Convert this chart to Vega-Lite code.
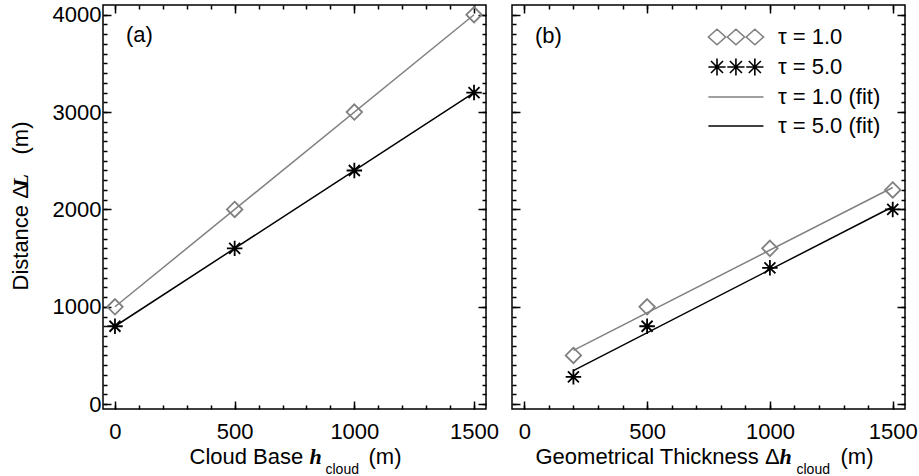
{
  "$schema": "https://vega.github.io/schema/vega-lite/v6.json",
  "background": "white",
  "padding": {"left": 8, "top": 2, "right": 0, "bottom": 0},
  "spacing": 10,
  "datasets": {
    "points_a": [
      {"x": 0, "y": 1000, "series": "τ = 1.0"},
      {"x": 500, "y": 2000, "series": "τ = 1.0"},
      {"x": 1000, "y": 3000, "series": "τ = 1.0"},
      {"x": 1500, "y": 4000, "series": "τ = 1.0"},
      {"x": 0, "y": 800, "series": "τ = 5.0"},
      {"x": 500, "y": 1600, "series": "τ = 5.0"},
      {"x": 1000, "y": 2400, "series": "τ = 5.0"},
      {"x": 1500, "y": 3200, "series": "τ = 5.0"}
    ],
    "fits_a": [
      {"x": 0, "y": 1000, "series": "τ = 1.0 (fit)"},
      {"x": 1500, "y": 4000, "series": "τ = 1.0 (fit)"},
      {"x": 0, "y": 800, "series": "τ = 5.0 (fit)"},
      {"x": 1500, "y": 3200, "series": "τ = 5.0 (fit)"}
    ],
    "points_b": [
      {"x": 200, "y": 500, "series": "τ = 1.0"},
      {"x": 500, "y": 1000, "series": "τ = 1.0"},
      {"x": 1000, "y": 1600, "series": "τ = 1.0"},
      {"x": 1500, "y": 2200, "series": "τ = 1.0"},
      {"x": 200, "y": 280, "series": "τ = 5.0"},
      {"x": 500, "y": 800, "series": "τ = 5.0"},
      {"x": 1000, "y": 1400, "series": "τ = 5.0"},
      {"x": 1500, "y": 2000, "series": "τ = 5.0"}
    ],
    "fits_b": [
      {"x": 200, "y": 553, "series": "τ = 1.0 (fit)"},
      {"x": 1500, "y": 2225, "series": "τ = 1.0 (fit)"},
      {"x": 200, "y": 345, "series": "τ = 5.0 (fit)"},
      {"x": 1500, "y": 2028, "series": "τ = 5.0 (fit)"}
    ],
    "legend_b": [
      {"series": "τ = 1.0"},
      {"series": "τ = 5.0"},
      {"series": "τ = 1.0 (fit)"},
      {"series": "τ = 5.0 (fit)"}
    ]
  },
  "hconcat": [
    {
      "width": 383,
      "height": 404,
      "title": {"text": "(a)", "anchor": "start", "frame": "group", "offset": -39, "dx": 23, "dy": 22, "baseline": "alphabetic", "fontSize": 22, "fontWeight": "normal", "font": "Liberation Sans", "color": "#000"},
      "resolve": {"axis": {"x": "independent", "y": "independent"}},
      "layer": [
        {
          "data": {"name": "fits_a"},
          "mark": {"type": "line", "strokeWidth": 1.5},
          "encoding": {
            "x": {"field": "x", "type": "quantitative", "scale": {"domain": [-50, 1550], "nice": false, "zero": false},
              "axis": {"orient": "bottom", "values": [0, 500, 1000, 1500], "format": "d", "tickSize": -8, "labelPadding": 20, "labelFlush": false, "labelOverlap": false, "title": "Cloud Base", "titleX": 86, "titleY": 54, "titleAlign": "left", "titleBaseline": "alphabetic", "titleAngle": 0}},
            "y": {"field": "y", "type": "quantitative", "scale": {"domain": [-50, 4100], "nice": false, "zero": false},
              "axis": {"orient": "left", "values": [0, 1000, 2000, 3000, 4000], "format": "d", "tickSize": -8, "labelPadding": 10, "labelFlush": false, "labelOverlap": false, "title": "Distance Δ", "titleX": -76, "titleY": 285, "titleAlign": "left", "titleBaseline": "alphabetic", "titleAngle": 270}},
            "color": {"field": "series", "type": "nominal", "scale": {"domain": ["τ = 1.0", "τ = 5.0", "τ = 1.0 (fit)", "τ = 5.0 (fit)"], "range": ["#808080", "#000000", "#808080", "#000000"]}, "legend": null}
          }
        },
        {
          "data": {"name": "points_a"},
          "mark": {"type": "point", "filled": false, "opacity": 1, "strokeWidth": 1.8, "size": 240},
          "encoding": {
            "x": {"field": "x", "type": "quantitative",
              "axis": {"orient": "bottom", "values": [0,100,200,300,400,500,600,700,800,900,1000,1100,1200,1300,1400,1500], "tickSize": -4, "labels": false, "title": "h", "titleFont": "Liberation Serif", "titleFontStyle": "italic", "titleFontWeight": "bold", "titleX": 206, "titleY": 54, "titleAlign": "left", "titleBaseline": "alphabetic", "titleAngle": 0}},
            "y": {"field": "y", "type": "quantitative",
              "axis": {"orient": "left", "values": [0,100,200,300,400,500,600,700,800,900,1000,1100,1200,1300,1400,1500,1600,1700,1800,1900,2000,2100,2200,2300,2400,2500,2600,2700,2800,2900,3000,3100,3200,3300,3400,3500,3600,3700,3800,3900,4000], "tickSize": -4, "labels": false, "title": "L", "titleFont": "Liberation Serif", "titleFontStyle": "italic", "titleFontWeight": "bold", "titleX": -76, "titleY": 182, "titleAlign": "left", "titleBaseline": "alphabetic", "titleAngle": 270}},
            "color": {"field": "series", "type": "nominal", "legend": null},
            "shape": {"field": "series", "type": "nominal", "scale": {"domain": ["τ = 1.0", "τ = 5.0", "τ = 1.0 (fit)", "τ = 5.0 (fit)"], "range": ["M0,-1L1,0L0,1L-1,0Z", "M-1,0L1,0M0,-1L0,1M-0.71,-0.71L0.71,0.71M-0.71,0.71L0.71,-0.71", "stroke", "stroke"]}, "legend": null}
          }
        },
        {
          "data": {"name": "points_a"},
          "mark": {"type": "point", "opacity": 0},
          "encoding": {
            "x": {"field": "x", "type": "quantitative",
              "axis": {"orient": "top", "values": [0, 500, 1000, 1500], "tickSize": -8, "labels": false, "title": "cloud", "titleFontSize": 14, "titleX": 222, "titleY": 468, "titleAlign": "left", "titleBaseline": "alphabetic", "titleAngle": 0}},
            "y": {"field": "y", "type": "quantitative",
              "axis": {"orient": "right", "values": [0, 1000, 2000, 3000, 4000], "tickSize": -8, "labels": false, "title": "(m)", "titleX": -459, "titleY": 149, "titleAlign": "left", "titleBaseline": "alphabetic", "titleAngle": 270}}
          }
        },
        {
          "data": {"name": "points_a"},
          "mark": {"type": "point", "opacity": 0},
          "encoding": {
            "x": {"field": "x", "type": "quantitative",
              "axis": {"orient": "top", "values": [0,100,200,300,400,500,600,700,800,900,1000,1100,1200,1300,1400,1500], "tickSize": -4, "labels": false, "title": "(m)", "titleX": 265, "titleY": 458, "titleAlign": "left", "titleBaseline": "alphabetic", "titleAngle": 0}},
            "y": {"field": "y", "type": "quantitative",
              "axis": {"orient": "right", "values": [0,100,200,300,400,500,600,700,800,900,1000,1100,1200,1300,1400,1500,1600,1700,1800,1900,2000,2100,2200,2300,2400,2500,2600,2700,2800,2900,3000,3100,3200,3300,3400,3500,3600,3700,3800,3900,4000], "tickSize": -4, "labels": false, "title": null}}
          }
        }
      ]
    },
    {
      "width": 393,
      "height": 404,
      "title": {"text": "(b)", "anchor": "start", "frame": "group", "offset": -39, "dx": 23, "dy": 22, "baseline": "alphabetic", "fontSize": 22, "fontWeight": "normal", "font": "Liberation Sans", "color": "#000"},
      "resolve": {"axis": {"x": "independent", "y": "independent"}, "scale": {"color": "independent", "shape": "independent"}},
      "layer": [
        {
          "data": {"name": "fits_b"},
          "mark": {"type": "line", "strokeWidth": 1.5},
          "encoding": {
            "x": {"field": "x", "type": "quantitative", "scale": {"domain": [-50, 1550], "nice": false, "zero": false},
              "axis": {"orient": "bottom", "values": [0, 500, 1000, 1500], "format": "d", "tickSize": -8, "labelPadding": 20, "labelFlush": false, "labelOverlap": false, "title": "Geometrical Thickness Δ", "titleX": 23, "titleY": 54, "titleAlign": "left", "titleBaseline": "alphabetic", "titleAngle": 0}},
            "y": {"field": "y", "type": "quantitative", "scale": {"domain": [-50, 4100], "nice": false, "zero": false},
              "axis": {"orient": "left", "values": [0, 1000, 2000, 3000, 4000], "tickSize": -8, "labels": false, "title": null}},
            "color": {"field": "series", "type": "nominal", "scale": {"domain": ["τ = 1.0 (fit)", "τ = 5.0 (fit)"], "range": ["#808080", "#000000"]}, "legend": null}
          }
        },
        {
          "data": {"name": "points_b"},
          "mark": {"type": "point", "filled": false, "opacity": 1, "strokeWidth": 1.8, "size": 240},
          "encoding": {
            "x": {"field": "x", "type": "quantitative",
              "axis": {"orient": "bottom", "values": [0,100,200,300,400,500,600,700,800,900,1000,1100,1200,1300,1400,1500], "tickSize": -4, "labels": false, "title": "h", "titleFont": "Liberation Serif", "titleFontStyle": "italic", "titleFontWeight": "bold", "titleX": 267, "titleY": 54, "titleAlign": "left", "titleBaseline": "alphabetic", "titleAngle": 0}},
            "y": {"field": "y", "type": "quantitative",
              "axis": {"orient": "left", "values": [0,100,200,300,400,500,600,700,800,900,1000,1100,1200,1300,1400,1500,1600,1700,1800,1900,2000,2100,2200,2300,2400,2500,2600,2700,2800,2900,3000,3100,3200,3300,3400,3500,3600,3700,3800,3900,4000], "tickSize": -4, "labels": false, "title": null}},
            "color": {"field": "series", "type": "nominal", "scale": {"domain": ["τ = 1.0", "τ = 5.0"], "range": ["#808080", "#000000"]}, "legend": null},
            "shape": {"field": "series", "type": "nominal", "scale": {"domain": ["τ = 1.0", "τ = 5.0"], "range": ["M0,-1L1,0L0,1L-1,0Z", "M-1,0L1,0M0,-1L0,1M-0.71,-0.71L0.71,0.71M-0.71,0.71L0.71,-0.71"]}, "legend": null}
          }
        },
        {
          "data": {"name": "points_b"},
          "mark": {"type": "point", "opacity": 0},
          "encoding": {
            "x": {"field": "x", "type": "quantitative",
              "axis": {"orient": "top", "values": [0, 500, 1000, 1500], "tickSize": -8, "labels": false, "title": "cloud", "titleFontSize": 14, "titleX": 284, "titleY": 468, "titleAlign": "left", "titleBaseline": "alphabetic", "titleAngle": 0}},
            "y": {"field": "y", "type": "quantitative",
              "axis": {"orient": "right", "values": [0, 1000, 2000, 3000, 4000], "tickSize": -8, "labels": false, "title": null}}
          }
        },
        {
          "data": {"name": "points_b"},
          "mark": {"type": "point", "opacity": 0},
          "encoding": {
            "x": {"field": "x", "type": "quantitative",
              "axis": {"orient": "top", "values": [0,100,200,300,400,500,600,700,800,900,1000,1100,1200,1300,1400,1500], "tickSize": -4, "labels": false, "title": "(m)", "titleX": 328, "titleY": 458, "titleAlign": "left", "titleBaseline": "alphabetic", "titleAngle": 0}},
            "y": {"field": "y", "type": "quantitative",
              "axis": {"orient": "right", "values": [0,100,200,300,400,500,600,700,800,900,1000,1100,1200,1300,1400,1500,1600,1700,1800,1900,2000,2100,2200,2300,2400,2500,2600,2700,2800,2900,3000,3100,3200,3300,3400,3500,3600,3700,3800,3900,4000], "tickSize": -4, "labels": false, "title": null}}
          }
        },
        {
          "data": {"name": "legend_b"},
          "mark": {"type": "point", "filled": false, "opacity": 0, "strokeWidth": 1.5},
          "encoding": {
            "color": {"field": "series", "type": "nominal", "scale": {"domain": ["τ = 1.0", "τ = 5.0", "τ = 1.0 (fit)", "τ = 5.0 (fit)"], "range": ["#808080", "#000000", "#808080", "#000000"]},
              "legend": {"orient": "none", "legendX": 194, "legendY": 21, "title": null, "padding": 0, "rowPadding": 7, "labelOffset": 50, "symbolSize": 296, "labelFontSize": 22, "labelFont": "Liberation Sans", "labelColor": "#000", "symbolStrokeWidth": 1.6, "symbolOpacity": 1, "symbolFillColor": "transparent"}},
            "shape": {"field": "series", "type": "nominal", "scale": {"domain": ["τ = 1.0", "τ = 5.0", "τ = 1.0 (fit)", "τ = 5.0 (fit)"], "range": ["M-1,0L0,-0.9L1,0L0,0.9Z M1.2,0L2.2,-0.9L3.2,0L2.2,0.9Z M3.4,0L4.4,-0.9L5.4,0L4.4,0.9Z", "M-1,0L1,0M0,-1L0,1M-0.7,-0.7L0.7,0.7M-0.7,0.7L0.7,-0.7M1.2,0L3.2,0M2.2,-1L2.2,1M1.5,-0.7L2.9,0.7M1.5,0.7L2.9,-0.7M3.4,0L5.4,0M4.4,-1L4.4,1M3.7,-0.7L5.1,0.7M3.7,0.7L5.1,-0.7", "M-1,0L5.4,0", "M-1,0L5.4,0"]},
              "legend": {"orient": "none", "legendX": 194, "legendY": 21, "title": null, "padding": 0, "rowPadding": 7, "labelOffset": 50, "symbolSize": 296, "labelFontSize": 22, "labelFont": "Liberation Sans", "labelColor": "#000", "symbolStrokeWidth": 1.6, "symbolOpacity": 1, "symbolFillColor": "transparent"}}
          }
        }
      ]
    }
  ],
  "resolve": {"scale": {"color": "independent", "shape": "independent"}},
  "config": {
    "font": "Liberation Sans",
    "view": {"stroke": "#000", "strokeWidth": 1.5},
    "axis": {"grid": false, "domain": false, "minExtent": 0, "tickColor": "#000", "tickWidth": 1.5, "labelFont": "Liberation Sans", "labelFontSize": 22, "labelColor": "#000", "titleFont": "Liberation Sans", "titleFontSize": 22, "titleFontWeight": "normal", "titleColor": "#000"}
  }
}
